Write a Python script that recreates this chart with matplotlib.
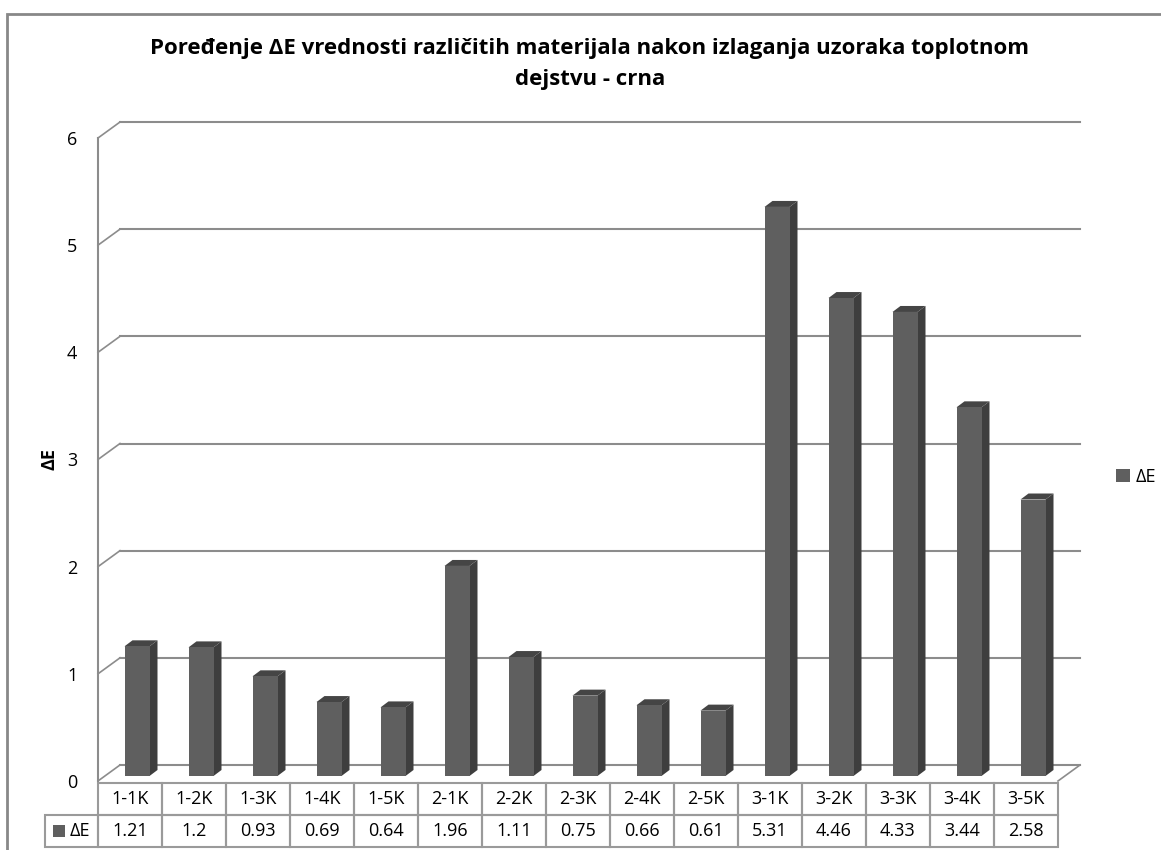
import matplotlib
matplotlib.use('Agg')
import matplotlib.pyplot as plt
import numpy as np
from matplotlib.patches import Rectangle, Polygon
from matplotlib.lines import Line2D

plt.rcParams['font.family'] = ['Open Sans', 'DejaVu Sans']

categories = ['1-1K', '1-2K', '1-3K', '1-4K', '1-5K',
              '2-1K', '2-2K', '2-3K', '2-4K', '2-5K',
              '3-1K', '3-2K', '3-3K', '3-4K', '3-5K']
delta_e = [1.21, 1.2, 0.93, 0.69, 0.64,
           1.96, 1.11, 0.75, 0.66, 0.61,
           5.31, 4.46, 4.33, 3.44, 2.58]
value_labels = ['1.21', '1.2', '0.93', '0.69', '0.64',
                '1.96', '1.11', '0.75', '0.66', '0.61',
                '5.31', '4.46', '4.33', '3.44', '2.58']
series_name = 'ΔE'
title = 'Poređenje ΔE vrednosti različitih materijala nakon izlaganja uzoraka toplotnom\ndejstvu - crna'
yticks = [0, 1, 2, 3, 4, 5, 6]

W, H = 1161, 850
fs = 13
fig = plt.figure(figsize=(W / 100, H / 100), dpi=100)
# front plane of the plot area, in pixels
left, right, top, bottom = 98, 1058, 138, 781
ax = fig.add_axes([left / W, (H - bottom) / H, (right - left) / W, (bottom - top) / H])
n = len(categories)
ax.set_xlim(-0.5, n - 0.5)
ax.set_ylim(0, 6)
for s in ax.spines.values():
    s.set_visible(False)
ax.set_xticks([])
ax.set_yticks(yticks)
ax.tick_params(axis='y', length=0, pad=15, labelsize=fs)

# pixel -> data units
px_x = n / (right - left)
px_y = 6 / (bottom - top)

grid_c = '#8c8c8c'
# back wall gridlines and left wall diagonals
wall_dx, wall_dy = 22 * px_x, 16 * px_y
for v in yticks:
    ax.add_line(Line2D([-0.5 + wall_dx, n - 0.5 + wall_dx], [v + wall_dy, v + wall_dy],
                       color=grid_c, lw=1.5, clip_on=False, zorder=1))
    ax.add_line(Line2D([-0.5, -0.5 + wall_dx], [v, v + wall_dy],
                       color=grid_c, lw=1.2, clip_on=False, zorder=1))
ax.add_line(Line2D([-0.5, -0.5], [0, 6], color=grid_c, lw=1.5, clip_on=False, zorder=1))
ax.add_line(Line2D([n - 0.5, n - 0.5 + wall_dx], [0, wall_dy],
                   color=grid_c, lw=1.2, clip_on=False, zorder=1))

# 3D-looking columns
bw = 25 / 64
face_dx, face_dy = 7 * px_x, 5 * px_y
dep_dx, dep_dy = 8 * px_x, 6 * px_y
front_c, side_c, top_c = '#5f5f5f', '#3e3e3e', '#454545'
for i, v in enumerate(delta_e):
    x0 = i - bw / 2 + face_dx
    x1 = i + bw / 2 + face_dx
    y0 = face_dy
    y1 = v + face_dy
    ax.add_patch(Polygon([(x1, y0), (x1 + dep_dx, y0 + dep_dy), (x1 + dep_dx, y1 + dep_dy), (x1, y1)],
                         closed=True, fc=side_c, ec='none', zorder=3, clip_on=False))
    ax.add_patch(Polygon([(x0, y1), (x0 + dep_dx, y1 + dep_dy), (x1 + dep_dx, y1 + dep_dy), (x1, y1)],
                         closed=True, fc=top_c, ec='none', zorder=3, clip_on=False))
    ax.add_patch(Rectangle((x0, y0), x1 - x0, y1 - y0, fc=front_c, ec='none', zorder=4, clip_on=False))

# data table below the plot
tr = ax.get_xaxis_transform()
ph = bottom - top
row_h = 32 / ph
top_t = -2 / ph
tab_c = '#9a9a9a'
lab_left = -0.5 - 53 * px_x
for i in range(n):
    for r, txt in enumerate([categories[i], value_labels[i]]):
        yb = top_t - row_h * (r + 1)
        ax.add_patch(Rectangle((i - 0.5, yb), 1, row_h, transform=tr, fill=False,
                               ec=tab_c, lw=1.5, clip_on=False, zorder=2))
        ax.text(i, yb + row_h / 2, txt, transform=tr, ha='center', va='center',
                fontsize=fs, clip_on=False)
yb = top_t - 2 * row_h
ax.add_patch(Rectangle((lab_left, yb), -0.5 - lab_left, row_h, transform=tr, fill=False,
                       ec=tab_c, lw=1.5, clip_on=False, zorder=2))
ax.add_patch(Rectangle((lab_left + 8 * px_x, yb + 10 / ph), 12 * px_x, 12 / ph, transform=tr,
                       fc=front_c, ec='none', clip_on=False, zorder=3))
ax.text(lab_left + 25 * px_x, yb + row_h / 2, series_name, transform=tr,
        ha='left', va='center', fontsize=fs, clip_on=False)

ax.set_ylabel(series_name, fontsize=fs, fontweight='bold', labelpad=6)

# legend
fig.legend(handles=[Rectangle((0, 0), 1, 1, fc=front_c, ec='none')], labels=[series_name],
           loc='center left', bbox_to_anchor=(1100 / W, (H - 477) / H), frameon=False,
           fontsize=fs, handlelength=0.75, handleheight=0.75, handletextpad=0.35)

fig.text(590 / W, (H - 64) / H, title, ha='center', va='center', fontsize=16,
         fontweight='bold', linespacing=1.6)

fig.patches.append(Rectangle((7 / W, -0.1), 2, (H - 14) / H + 0.1, transform=fig.transFigure,
                             fill=False, ec='#888888', lw=2))

fig.savefig('out.png', dpi=100)
